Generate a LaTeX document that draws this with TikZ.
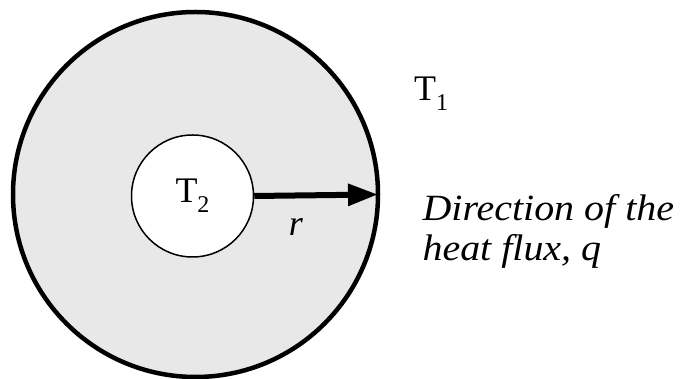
\documentclass[tikz,border=0pt]{standalone}
\usepackage{fontspec}
\setmainfont{Liberation Serif}
\newfontfamily\fluxfont[FakeStretch=1.08]{Liberation Serif}
\usepackage{tikz}
\usetikzlibrary{arrows.meta}
\newcommand{\lowsub}[1]{\raisebox{-0.28em}{\fontsize{24}{24}\selectfont #1}}

\begin{document}
\begin{tikzpicture}[x=1pt,y=1pt,font=\fontsize{36}{40}\selectfont]
\useasboundingbox (0,0) rectangle (682,379);
\node[circle,draw,line width=4.5pt,fill=black!9,minimum size=365pt,outer sep=0pt] (wall) at (195.5,184.5) {};
\node[circle,draw,line width=1.5pt,fill=white,minimum size=122pt,inner sep=0pt] (core) at (192.5,183) {T\lowsub{2}};
\draw[line width=6pt,-{Triangle[length=30pt,width=21pt]}] (core.east) -- (wall.east);
\node at (296,152) {\itshape r};
\node at (431,285) {T\lowsub{1}};
\node[anchor=west,align=left,font=\fluxfont\fontsize{37}{40}\selectfont\itshape] (flux) at (419,148) {Direction of the\\heat flux, q};
\end{tikzpicture}
\end{document}
